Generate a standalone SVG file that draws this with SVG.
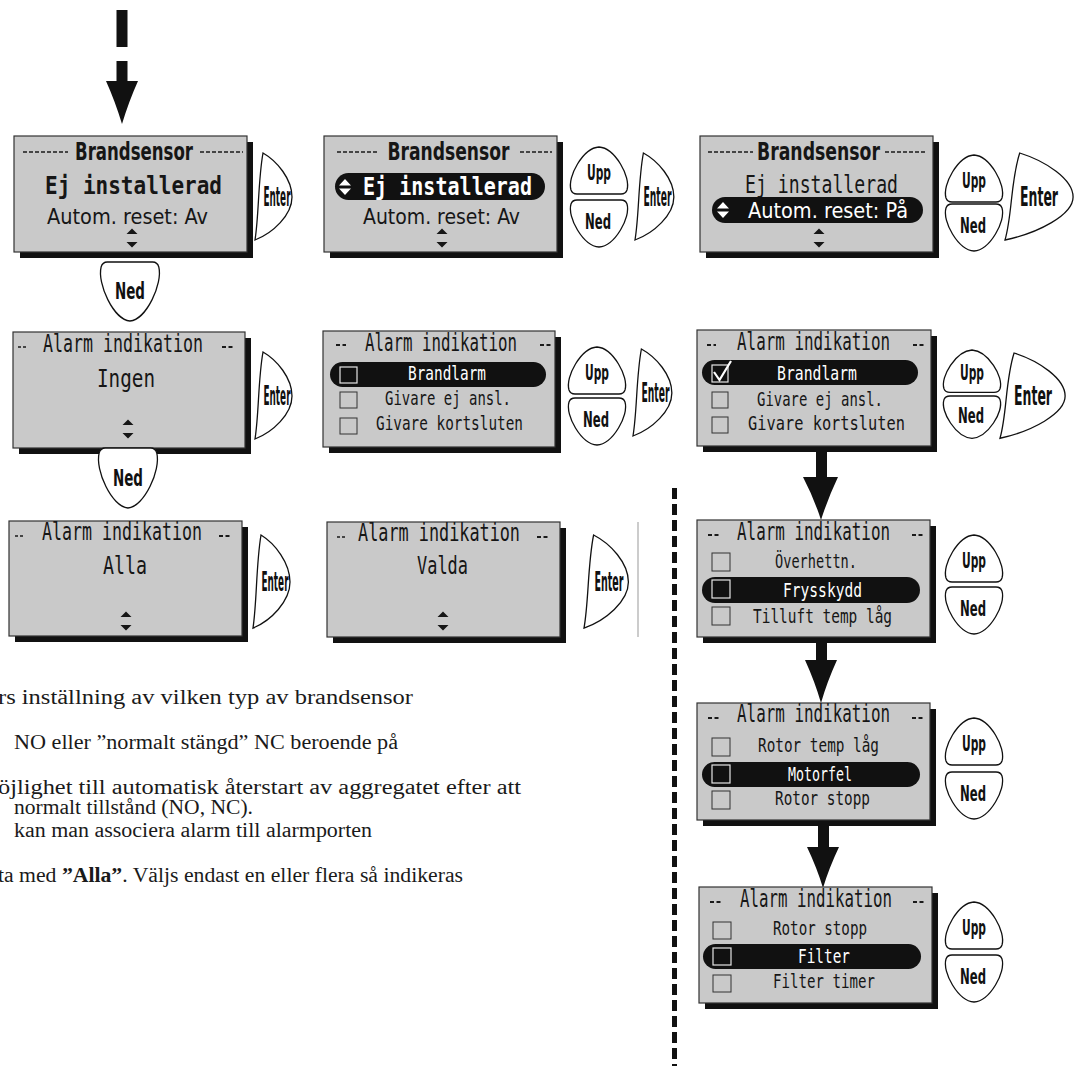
<svg xmlns="http://www.w3.org/2000/svg" xmlns:xlink="http://www.w3.org/1999/xlink" width="1078" height="1066" viewBox="0 0 1078 1066">
<style>
.sh{fill:#111}
.scr{fill:#c9c9c9;stroke:#333;stroke-width:1.2}
.lcd{font-family:"DejaVu Sans Mono","Liberation Mono",monospace;fill:#161616}
.ttl{font-size:24px}
.itm{font-size:20px}
.big{font-size:24px}
.cond{font-family:"DejaVu Sans Condensed","DejaVu Sans",sans-serif;font-size:22px;fill:#161616}
.tt{font-size:24px}
.bold{font-weight:bold}
.wt{fill:#fff}
.pill{fill:#111}
.cb{fill:none;stroke:#333;stroke-width:1}
.cbw{fill:#111;stroke:#e6e6e6;stroke-width:1.2}
.dots{stroke:#1a1a1a;stroke-width:1.6;stroke-dasharray:4 2}
.dd{stroke:#1a1a1a;stroke-width:2;stroke-dasharray:4 2.5}
.btn{fill:#fff;stroke:#111;stroke-width:1.3}
.bl{font-family:"DejaVu Sans Condensed","DejaVu Sans",sans-serif;font-weight:bold;fill:#111;text-anchor:middle}
.en{font-size:26px}
.un{font-size:21px}
.mid{text-anchor:middle}
.ud{fill:#161616}
.udw{fill:#fff}
.arr{fill:#111}
.note{font-family:"Liberation Serif","DejaVu Serif",serif;font-size:20px;fill:#1a1a1a}
</style>
<defs>
<path id="upp" vector-effect="non-scaling-stroke" d="M4,43 C0,30 16,1 32,0 C48,1 64,30 60,43 C59,46 57,47 54,47 L10,47 C7,47 5,46 4,43 Z"/>
<path id="ned" vector-effect="non-scaling-stroke" d="M4,4 C5,1 7,0 10,0 L54,0 C57,0 59,1 60,4 C64,17 48,46 32,47 C16,46 0,17 4,4 Z"/>
<path id="ent" vector-effect="non-scaling-stroke" d="M8,0 C22,8 37,26 37,44 C37,62 18,80 0,87 C4,62 3,28 8,0 Z"/>
<path id="udi" d="M0,-9.5 L5.5,-4 L-5.5,-4 Z M0,9.5 L5.5,4 L-5.5,4 Z"/>
<path id="udw" d="M0,-8 L6,-1.5 L-6,-1.5 Z M0,8 L6,1.5 L-6,1.5 Z"/>
</defs>
<rect width="1078" height="1066" fill="#fff"/>

<g id="connectors">
<rect class="arr" x="116.5" y="10" width="11" height="37"/>
<rect class="arr" x="116.5" y="61" width="11" height="21"/>
<path class="arr" d="M106,81 Q115,101 122,124 Q129,101 138,81 Z"/>
<rect class="arr" x="816" y="452" width="11" height="26"/>
<path class="arr" d="M803,477 Q814,498 821,520 Q828,498 838,477 Z"/>
<rect class="arr" x="816" y="643" width="11" height="18"/>
<path class="arr" d="M805,660 Q815,682 821,703 Q827,682 837,660 Z"/>
<rect class="arr" x="818" y="826" width="11" height="22"/>
<path class="arr" d="M807,847 Q817,868 823,888 Q829,868 839,847 Z"/>
</g>

<g id="separator">
<line x1="674.5" y1="488" x2="674.5" y2="1066" stroke="#111" stroke-width="5" stroke-dasharray="11 5"/>
<line x1="638" y1="522" x2="638" y2="637" stroke="#999" stroke-width="1"/>
</g>

<!-- Row 1 -->
<g id="s1">
<rect class="sh" x="20" y="142" width="233" height="116"/>
<rect class="scr" x="14" y="136" width="233" height="116"/>
<line class="dots" x1="23" y1="152" x2="68" y2="152"/>
<line class="dots" x1="200" y1="152" x2="243" y2="152"/>
<text class="cond tt bold mid" x="134" y="160" textLength="118" lengthAdjust="spacingAndGlyphs">Brandsensor</text>
<text class="lcd big bold mid" x="133.5" y="194" textLength="177" lengthAdjust="spacingAndGlyphs">Ej installerad</text>
<text class="cond mid" x="127.5" y="224" textLength="161" lengthAdjust="spacingAndGlyphs">Autom. reset: Av</text>
<use href="#udi" class="ud" x="132" y="238"/>
</g>
<g id="enter1">
<use href="#ent" class="btn" transform="translate(255,153)"/>
<text class="bl en" x="277" y="206" textLength="27" lengthAdjust="spacingAndGlyphs">Enter</text>
</g>
<g id="ned1">
<use href="#ned" class="btn" transform="translate(97,262) scale(1.03,1.255)"/>
<text class="bl" x="130" y="299" font-size="23" textLength="30" lengthAdjust="spacingAndGlyphs">Ned</text>
</g>

<g id="s2">
<rect class="sh" x="330" y="142" width="233" height="116"/>
<rect class="scr" x="324" y="136" width="233" height="116"/>
<line class="dots" x1="337" y1="152" x2="378" y2="152"/>
<line class="dots" x1="520" y1="152" x2="552" y2="152"/>
<text class="cond tt bold mid" x="448.5" y="160" textLength="122" lengthAdjust="spacingAndGlyphs">Brandsensor</text>
<rect class="pill" x="335" y="173" width="210" height="27" rx="13.5"/>
<use href="#udw" class="udw" x="345" y="187"/>
<text class="lcd big bold mid wt" x="447.5" y="195" textLength="169" lengthAdjust="spacingAndGlyphs">Ej installerad</text>
<text class="cond mid" x="441.5" y="224" textLength="157" lengthAdjust="spacingAndGlyphs">Autom. reset: Av</text>
<use href="#udi" class="ud" x="442" y="238"/>
</g>
<g id="upp2">
<use href="#upp" class="btn" transform="translate(567,147)"/>
<text class="bl un" x="599" y="180" textLength="24" lengthAdjust="spacingAndGlyphs">Upp</text>
</g>
<g id="ned2">
<use href="#ned" class="btn" transform="translate(567,200)"/>
<text class="bl un" x="598" y="229" textLength="26" lengthAdjust="spacingAndGlyphs">Ned</text>
</g>
<g id="enter2">
<use href="#ent" class="btn" transform="translate(635,153) scale(1.05,1)"/>
<text class="bl en" x="657.5" y="206" textLength="28" lengthAdjust="spacingAndGlyphs">Enter</text>
</g>

<g id="s3">
<rect class="sh" x="706" y="142" width="233" height="116"/>
<rect class="scr" x="700" y="136" width="233" height="116"/>
<line class="dots" x1="708" y1="152" x2="753" y2="152"/>
<line class="dots" x1="885" y1="152" x2="927" y2="152"/>
<text class="cond tt bold mid" x="818.5" y="160" textLength="123" lengthAdjust="spacingAndGlyphs">Brandsensor</text>
<text class="lcd big mid" x="821.5" y="193" textLength="153" lengthAdjust="spacingAndGlyphs">Ej installerad</text>
<rect class="pill" x="712" y="197" width="211" height="26" rx="13"/>
<use href="#udw" class="udw" x="723" y="210"/>
<text class="cond mid wt" x="828" y="218" textLength="160" lengthAdjust="spacingAndGlyphs">Autom. reset: På</text>
<use href="#udi" class="ud" x="819" y="238"/>
</g>
<g id="upp3">
<use href="#upp" class="btn" transform="translate(942,155)"/>
<text class="bl un" x="974" y="188" textLength="24" lengthAdjust="spacingAndGlyphs">Upp</text>
</g>
<g id="ned3">
<use href="#ned" class="btn" transform="translate(942,204)"/>
<text class="bl un" x="973" y="233" textLength="26" lengthAdjust="spacingAndGlyphs">Ned</text>
</g>
<g id="enter3">
<use href="#ent" class="btn" transform="translate(1005,153) scale(1.84,1)"/>
<text class="bl en" x="1039" y="206" textLength="38" lengthAdjust="spacingAndGlyphs">Enter</text>
</g>

<!-- Row 2 -->
<g id="s4">
<rect class="sh" x="19" y="338" width="232" height="116"/>
<rect class="scr" x="13" y="332" width="232" height="116"/>
<line class="dd" x1="18" y1="347" x2="26" y2="347" style="stroke-dasharray:3 2;stroke-width:1.5"/>
<line class="dd" x1="222" y1="347" x2="234" y2="347"/>
<text class="lcd ttl mid" x="123" y="352" textLength="160" lengthAdjust="spacingAndGlyphs">Alarm indikation</text>
<text class="lcd ttl mid" x="126" y="387" textLength="58" lengthAdjust="spacingAndGlyphs">Ingen</text>
<use href="#udi" class="ud" x="128" y="429"/>
</g>
<g id="enter4">
<use href="#ent" class="btn" transform="translate(255,352)"/>
<text class="bl en" x="277" y="405" textLength="27" lengthAdjust="spacingAndGlyphs">Enter</text>
</g>
<g id="ned4">
<use href="#ned" class="btn" transform="translate(95,448) scale(1.03,1.277)"/>
<text class="bl" x="128" y="486" font-size="23" textLength="30" lengthAdjust="spacingAndGlyphs">Ned</text>
</g>

<g id="s5">
<rect class="sh" x="329" y="337" width="232" height="116"/>
<rect class="scr" x="323" y="331" width="232" height="116"/>
<line class="dd" x1="336" y1="345" x2="346" y2="345"/>
<line class="dd" x1="540" y1="345" x2="551" y2="345"/>
<text class="lcd ttl mid" x="441" y="351" textLength="152" lengthAdjust="spacingAndGlyphs">Alarm indikation</text>
<rect class="pill" x="330" y="362" width="216" height="25" rx="12.5"/>
<rect class="cbw" x="340" y="367" width="17" height="16"/>
<text class="lcd itm mid wt" x="447" y="380" textLength="78" lengthAdjust="spacingAndGlyphs">Brandlarm</text>
<rect class="cb" x="340" y="392" width="17" height="16"/>
<text class="lcd itm mid" x="448" y="405" textLength="126" lengthAdjust="spacingAndGlyphs">Givare ej ansl.</text>
<rect class="cb" x="340" y="418" width="17" height="16"/>
<text class="lcd itm mid" x="449.5" y="430" textLength="147" lengthAdjust="spacingAndGlyphs">Givare kortsluten</text>
</g>
<g id="upp5">
<use href="#upp" class="btn" transform="translate(565,347)"/>
<text class="bl un" x="597" y="380" textLength="24" lengthAdjust="spacingAndGlyphs">Upp</text>
</g>
<g id="ned5">
<use href="#ned" class="btn" transform="translate(565,398)"/>
<text class="bl un" x="596" y="427" textLength="26" lengthAdjust="spacingAndGlyphs">Ned</text>
</g>
<g id="enter5">
<use href="#ent" class="btn" transform="translate(633,349) scale(1.05,1)"/>
<text class="bl en" x="655.5" y="402" textLength="28" lengthAdjust="spacingAndGlyphs">Enter</text>
</g>

<g id="s6">
<rect class="sh" x="703" y="336" width="234" height="116"/>
<rect class="scr" x="697" y="330" width="234" height="116"/>
<line class="dd" x1="707" y1="345" x2="716" y2="345"/>
<line class="dd" x1="913" y1="345" x2="924" y2="345"/>
<text class="lcd ttl mid" x="813.5" y="350" textLength="153" lengthAdjust="spacingAndGlyphs">Alarm indikation</text>
<rect class="pill" x="702" y="360" width="216" height="25" rx="12.5"/>
<rect class="cbw" x="712" y="365" width="16" height="17"/>
<path d="M714,372 L719.5,380 L731,361" fill="none" stroke="#fff" stroke-width="2.2"/>
<text class="lcd itm mid wt" x="817" y="380" textLength="80" lengthAdjust="spacingAndGlyphs">Brandlarm</text>
<rect class="cb" x="712" y="392" width="16" height="16"/>
<text class="lcd itm mid" x="820" y="406" textLength="126" lengthAdjust="spacingAndGlyphs">Givare ej ansl.</text>
<rect class="cb" x="712" y="417" width="16" height="16"/>
<text class="lcd itm mid" x="826.5" y="430" textLength="157" lengthAdjust="spacingAndGlyphs">Givare kortsluten</text>
</g>
<g id="upp6">
<use href="#upp" class="btn" transform="translate(940,350) scale(1,0.9)"/>
<text class="bl un" x="972" y="380" textLength="24" lengthAdjust="spacingAndGlyphs">Upp</text>
</g>
<g id="ned6">
<use href="#ned" class="btn" transform="translate(940,396) scale(1,0.9)"/>
<text class="bl un" x="971" y="423" textLength="26" lengthAdjust="spacingAndGlyphs">Ned</text>
</g>
<g id="enter6">
<use href="#ent" class="btn" transform="translate(1000,353) scale(1.76,0.98)"/>
<text class="bl en" x="1033" y="405" textLength="38" lengthAdjust="spacingAndGlyphs">Enter</text>
</g>

<!-- Row 3 -->
<g id="s8">
<rect class="sh" x="15" y="527" width="233" height="115"/>
<rect class="scr" x="9" y="521" width="233" height="115"/>
<line class="dd" x1="15" y1="536" x2="23" y2="536" style="stroke-dasharray:3 2;stroke-width:1.5"/>
<line class="dd" x1="219" y1="536" x2="231" y2="536"/>
<text class="lcd ttl mid" x="122" y="540" textLength="160" lengthAdjust="spacingAndGlyphs">Alarm indikation</text>
<text class="lcd ttl mid" x="125" y="574" textLength="44" lengthAdjust="spacingAndGlyphs">Alla</text>
<use href="#udi" class="ud" x="126" y="621"/>
</g>
<g id="enter7">
<use href="#ent" class="btn" transform="translate(253,535) scale(1,1.07)"/>
<text class="bl en" x="275" y="591" textLength="27" lengthAdjust="spacingAndGlyphs">Enter</text>
</g>

<g id="s9">
<rect class="sh" x="333" y="528" width="233" height="115"/>
<rect class="scr" x="327" y="522" width="233" height="115"/>
<line class="dd" x1="337" y1="537" x2="345" y2="537" style="stroke-dasharray:3 2;stroke-width:1.5"/>
<line class="dd" x1="537" y1="537" x2="549" y2="537"/>
<text class="lcd ttl mid" x="439" y="541" textLength="162" lengthAdjust="spacingAndGlyphs">Alarm indikation</text>
<text class="lcd ttl mid" x="442.5" y="574" textLength="51" lengthAdjust="spacingAndGlyphs">Valda</text>
<use href="#udi" class="ud" x="443" y="621"/>
</g>
<g id="enter8">
<use href="#ent" class="btn" transform="translate(584,535) scale(1.2,1.07)"/>
<text class="bl en" x="609" y="591" textLength="29" lengthAdjust="spacingAndGlyphs">Enter</text>
</g>

<!-- Right column -->
<g id="s7">
<rect class="sh" x="703" y="526" width="233" height="117"/>
<rect class="scr" x="697" y="520" width="233" height="117"/>
<line class="dd" x1="708" y1="535" x2="720" y2="535"/>
<line class="dd" x1="912" y1="535" x2="924" y2="535"/>
<text class="lcd ttl mid" x="813.5" y="540" textLength="153" lengthAdjust="spacingAndGlyphs">Alarm indikation</text>
<rect class="cb" x="712" y="553" width="18" height="18"/>
<text class="lcd itm mid" x="816" y="568" textLength="82" lengthAdjust="spacingAndGlyphs">Överhettn.</text>
<rect class="pill" x="702" y="577" width="218" height="26" rx="13"/>
<rect class="cbw" x="712" y="580" width="18" height="18"/>
<text class="lcd itm mid wt" x="822.5" y="597" textLength="79" lengthAdjust="spacingAndGlyphs">Frysskydd</text>
<rect class="cb" x="712" y="607" width="18" height="18"/>
<text class="lcd itm mid" x="822.5" y="623" textLength="139" lengthAdjust="spacingAndGlyphs">Tilluft temp låg</text>
</g>
<g id="upp7">
<use href="#upp" class="btn" transform="translate(942,535)"/>
<text class="bl un" x="974" y="568" textLength="24" lengthAdjust="spacingAndGlyphs">Upp</text>
</g>
<g id="ned7">
<use href="#ned" class="btn" transform="translate(942,587)"/>
<text class="bl un" x="973" y="616" textLength="26" lengthAdjust="spacingAndGlyphs">Ned</text>
</g>

<g id="s10">
<rect class="sh" x="703" y="709" width="233" height="117"/>
<rect class="scr" x="697" y="703" width="233" height="117"/>
<line class="dd" x1="708" y1="718" x2="720" y2="718"/>
<line class="dd" x1="912" y1="718" x2="924" y2="718"/>
<text class="lcd ttl mid" x="813.5" y="722" textLength="153" lengthAdjust="spacingAndGlyphs">Alarm indikation</text>
<rect class="cb" x="712" y="738" width="18" height="18"/>
<text class="lcd itm mid" x="818.5" y="752" textLength="121" lengthAdjust="spacingAndGlyphs">Rotor temp låg</text>
<rect class="pill" x="702" y="762" width="218" height="25" rx="12.5"/>
<rect class="cbw" x="712" y="765" width="18" height="18"/>
<text class="lcd itm mid wt" x="820" y="781" textLength="64" lengthAdjust="spacingAndGlyphs">Motorfel</text>
<rect class="cb" x="712" y="791" width="18" height="18"/>
<text class="lcd itm mid" x="822.5" y="805" textLength="95" lengthAdjust="spacingAndGlyphs">Rotor stopp</text>
</g>
<g id="upp10">
<use href="#upp" class="btn" transform="translate(942,718)"/>
<text class="bl un" x="974" y="751" textLength="24" lengthAdjust="spacingAndGlyphs">Upp</text>
</g>
<g id="ned10">
<use href="#ned" class="btn" transform="translate(942,772)"/>
<text class="bl un" x="973" y="801" textLength="26" lengthAdjust="spacingAndGlyphs">Ned</text>
</g>

<g id="s11">
<rect class="sh" x="705" y="893" width="233" height="116"/>
<rect class="scr" x="699" y="887" width="233" height="116"/>
<line class="dd" x1="710" y1="902" x2="722" y2="902"/>
<line class="dd" x1="913" y1="902" x2="925" y2="902"/>
<text class="lcd ttl mid" x="816" y="907" textLength="152" lengthAdjust="spacingAndGlyphs">Alarm indikation</text>
<rect class="cb" x="713" y="922" width="18" height="17"/>
<text class="lcd itm mid" x="820" y="935" textLength="94" lengthAdjust="spacingAndGlyphs">Rotor stopp</text>
<rect class="pill" x="703" y="944" width="218" height="25" rx="12.5"/>
<rect class="cbw" x="713" y="948" width="18" height="17"/>
<text class="lcd itm mid wt" x="824" y="963" textLength="52" lengthAdjust="spacingAndGlyphs">Filter</text>
<rect class="cb" x="713" y="975" width="18" height="17"/>
<text class="lcd itm mid" x="824" y="988" textLength="102" lengthAdjust="spacingAndGlyphs">Filter timer</text>
</g>
<g id="upp11">
<use href="#upp" class="btn" transform="translate(942,902)"/>
<text class="bl un" x="974" y="935" textLength="24" lengthAdjust="spacingAndGlyphs">Upp</text>
</g>
<g id="ned11">
<use href="#ned" class="btn" transform="translate(942,955)"/>
<text class="bl un" x="973" y="984" textLength="26" lengthAdjust="spacingAndGlyphs">Ned</text>
</g>

<g id="notes">
<text class="note" x="-2" y="704" textLength="415" lengthAdjust="spacingAndGlyphs">rs inställning av vilken typ av brandsensor</text>
<text class="note" x="14" y="749" textLength="384" lengthAdjust="spacingAndGlyphs">NO eller ”normalt stängd” NC beroende på</text>
<text class="note" x="-2" y="794" textLength="523" lengthAdjust="spacingAndGlyphs">öjlighet till automatisk återstart av aggregatet efter att</text>
<text class="note" x="14" y="814" textLength="239" lengthAdjust="spacingAndGlyphs">normalt tillstånd (NO, NC).</text>
<text class="note" x="14" y="837" textLength="358" lengthAdjust="spacingAndGlyphs">kan man associera alarm till alarmporten</text>
<text class="note" x="-2" y="882" textLength="465" lengthAdjust="spacingAndGlyphs">ta med <tspan font-weight="bold">”Alla”</tspan>. Väljs endast en eller flera så indikeras</text>
</g>
</svg>
